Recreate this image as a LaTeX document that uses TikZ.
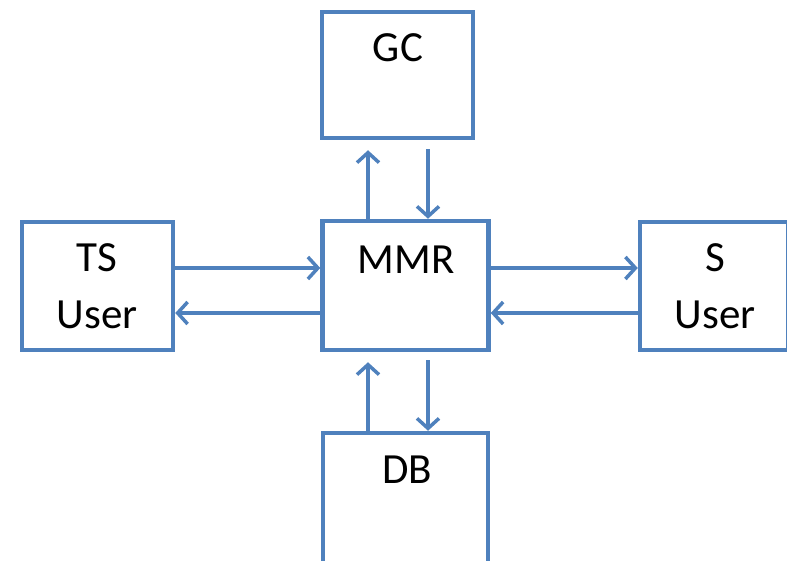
\documentclass[tikz,border=0pt]{standalone}
\usepackage{fontspec}
\setmainfont{Carlito}
\usetikzlibrary{arrows.meta}
\definecolor{boxblue}{HTML}{4F81BD}
\begin{document}
\begin{tikzpicture}[x=1pt,y=-1pt,
  box/.style={draw=boxblue, line width=4.5pt, rectangle, inner sep=0pt, fill=white},
  lbl/.style={anchor=base, inner sep=0pt, font=\fontsize{43}{43}\selectfont},
  arr/.style={draw=boxblue, line width=3.5pt, -{Straight Barb[length=10pt,width=22pt,line width=3.5pt]}}]
  \useasboundingbox (0,0) rectangle (787,561);
  \clip (0,0) rectangle (787,561);
  % boxes
  \node[box, minimum width=151pt, minimum height=126pt] (gc)  at (397.5,75) {};
  \node[box, minimum width=151pt, minimum height=128pt] (ts)  at (97.5,286) {};
  \node[box, minimum width=166pt, minimum height=129pt] (mmr) at (405.5,285.5) {};
  \node[box, minimum width=148pt, minimum height=128pt] (su)  at (714,286) {};
  \node[box, minimum width=165pt, minimum height=132pt] (db)  at (405.5,499) {};
  % labels
  \node[lbl] (tgc)  at (398,62) {GC};
  \node[lbl] (tmmr) at (406,274) {MMR};
  \node[lbl] (tts1) at (97,272) {TS};
  \node[lbl] (tts2) at (97,328) {User};
  \node[lbl] (tsu1) at (715,272) {S};
  \node[lbl] (tsu2) at (715,328) {User};
  \node[lbl] (tdb)  at (407,483) {DB};
  % MMR <-> GC
  \draw[arr, shorten >=10pt] ([xshift=-37.5pt]mmr.north) -- ([xshift=-37.5pt]mmr.north |- gc.south);
  \draw[arr, shorten <=9pt] ([xshift=30.5pt]gc.south) -- ([xshift=30.5pt]gc.south |- mmr.north);
  % TS User <-> MMR
  \draw[arr] ([yshift=18pt]ts.east) -- ([yshift=18pt]ts.east -| mmr.west);
  \draw[arr] ([yshift=-27.5pt]mmr.west) -- ([yshift=-27.5pt]mmr.west -| ts.east);
  % MMR <-> S User
  \draw[arr] ([yshift=17.5pt]mmr.east) -- ([yshift=17.5pt]mmr.east -| su.west);
  \draw[arr] ([yshift=-27pt]su.west) -- ([yshift=-27pt]su.west -| mmr.east);
  % DB <-> MMR
  \draw[arr, shorten >=10pt] ([xshift=-37.5pt]db.north) -- ([xshift=-37.5pt]db.north |- mmr.south);
  \draw[arr, shorten <=8pt] ([xshift=22.5pt]mmr.south) -- ([xshift=22.5pt]mmr.south |- db.north);
\end{tikzpicture}
\end{document}
